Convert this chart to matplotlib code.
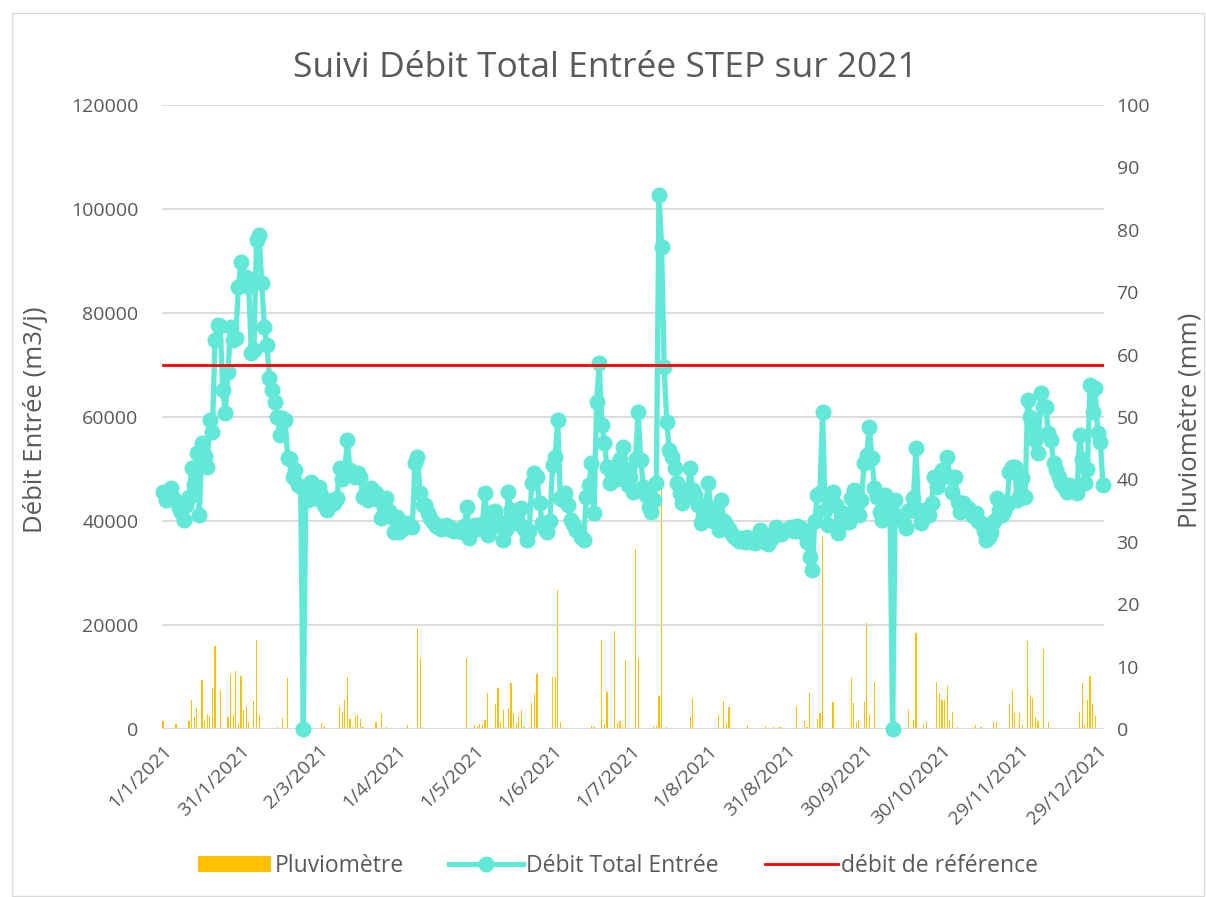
import numpy as np
import matplotlib
matplotlib.use("Agg")
import matplotlib.pyplot as plt
from matplotlib.patches import Rectangle

plt.rcParams['font.family'] = ['Open Sans', 'DejaVu Sans']

# ---------------- data ----------------
debit = [
    45500, 44000, 45800, 46300, 44500, 43800, 42500, 41700, 40200, 43000,
    44600, 50200, 47000, 53000, 41100, 55000, 52500, 50400, 59400, 57100,
    74800, 77700, 77500, 65200, 60800, 68700, 77300, 74800, 75200, 85000,
    89800, 86000, 87000, 85000, 72300, 72900, 94000, 95000, 85800, 77300,
    73800, 67500, 65200, 62900, 60000, 56500, 59800, 59500, 52100, 52000,
    48500, 49800, 47000, 46500, 0, 46000, 44000, 47500, 46000, 44500,
    46500, 45000, 43000, 42100, 43000, 44000, 43500, 44500, 50200, 48000,
    49800, 55600, 49800, 49200, 48500, 49200, 48500, 44600, 45500, 44000,
    46300, 45000, 45400, 44000, 40600, 42500, 44400, 42000, 40800, 37900,
    40800, 37900, 38500, 39000, 39600, 39000, 38800, 51100, 52300, 45400,
    43000, 43000, 41500, 40500, 39800, 39000, 38800, 38500, 39000, 39200,
    38800, 38300, 38000, 38300, 38000, 37800, 39000, 42700, 36700, 38500,
    39200, 38500, 38800, 39500, 45400, 37300, 38500, 41700, 42000, 40000,
    39000, 36300, 38500, 45600, 42100, 41000, 40000, 39500, 42500, 38500,
    36300, 38000, 47300, 49200, 48500, 43500, 39600, 38500, 37900, 40000,
    50800, 52300, 59400, 44400, 44000, 45400, 43000, 40200, 39500, 38300,
    38000, 37000, 36300, 44600, 47000, 51100, 41500, 62900, 70400, 58500,
    55000, 50400, 47300, 49000, 50400, 48000, 52000, 54200, 50000, 47000,
    48500, 45600, 52000, 61000, 51700, 46500, 45000, 42700, 41700, 44000,
    47300, 102700, 92700, 69600, 59000, 53700, 52300, 50200, 47300, 45400,
    43500, 44500, 46000, 50200, 46000, 45000, 43000, 39600, 41000, 43000,
    47300, 41500, 40000, 42000, 38300, 44000, 40000, 39200, 38500, 37500,
    36900, 36500, 36200, 36700, 36000, 36900, 36500, 36000, 35800, 36500,
    38300, 37000, 36000, 35500, 36500, 37500, 38800, 38300, 37500, 38000,
    38300, 38500, 38800, 38000, 39000, 38800, 37900, 38300, 36000, 33000,
    30500, 40000, 45000, 45400, 61000, 42100, 39200, 43500, 45600, 43000,
    37700, 40000, 41500, 39800, 39800, 44400, 46000, 42500, 41100, 44000,
    51100, 52700, 58000, 52100, 46300, 44600, 41700, 40200, 45000, 42500,
    41000, 0, 44000, 41000, 40800, 40000, 38600, 42000, 42100, 44400,
    54000, 41500, 39600, 42100, 42000, 41100, 43500, 48500, 46500, 47900,
    49800, 49000, 52300, 48500, 45600, 48500, 43700, 41700, 43500, 42500,
    42500, 41500, 41000, 41500, 40000, 39600, 38000, 36300, 37000, 37900,
    40000, 44400, 42000, 41100, 42000, 43000, 49400, 50400, 50400, 44000,
    45000, 48300, 44600, 63300, 60000, 58000, 55600, 53100, 64600, 62000,
    61900, 57000, 55600, 51100, 49800, 48500, 47300, 46500, 45600, 47000,
    46300, 46000, 45400, 56500, 52000, 47300, 50000, 66200, 61000, 65600,
    56900, 55200, 47000,
]

# rainfall (mm): day index of each rainy day and its amount
rain_days = [0, 5, 10, 11, 12, 13, 15, 16, 17, 18, 19, 20, 22, 25, 26, 27, 28, 29, 30, 31,
             32, 33, 35, 36, 37, 44, 46, 48, 61, 62, 68, 69, 70, 71, 72, 73, 74, 75, 76, 77,
             82, 84, 86, 94, 98, 99, 100, 117, 120, 121, 122, 123, 124, 125, 128, 129, 130, 131,
             132, 133, 134, 135, 136, 137, 138, 139, 141, 142, 143, 144, 150, 151, 152, 153, 165,
             166, 169, 170, 171, 174, 175, 176, 177, 178, 182, 183, 189, 190, 191, 192, 194, 203,
             204, 208, 214, 216, 217, 218, 225, 232, 235, 237, 238, 244, 247, 248, 249, 252, 253,
             254, 258, 265, 266, 267, 268, 270, 271, 272, 274, 287, 289, 290, 293, 294, 298, 299,
             300, 301, 302, 303, 304, 306, 312, 313, 315, 320, 321, 326, 327, 328, 330, 331, 333,
             334, 335, 336, 337, 339, 341, 353, 354, 355, 356, 357, 358, 359]
rain_mm = [1.3, 0.8, 1.3, 4.7, 2, 3.4, 7.9, 1.3, 2.4, 2, 6.6, 13.3, 6.3, 2, 8.8, 2.2, 9.3, 1, 8.5, 3,
           3.7, 1.2, 4.5, 14.3, 2.2, 0.3, 1.7, 8.1, 1, 0.3, 3.7, 2.8, 4.7, 8.4, 1.6, 0.3, 2.1, 2.3, 1.6, 0.3,
           1.1, 2.6, 0.3, 0.7, 16, 11.4, 0.3, 11.4, 0.7, 0.5, 0.8, 0.7, 1.5, 5.8, 4, 6.6, 1.2, 3.1,
           0.3, 3.4, 7.4, 2.6, 1, 1.9, 3, 0.3, 0.3, 4.2, 5.6, 8.8, 8.3, 8.3, 22.3, 1.2, 0.5,
           0.3, 14.3, 0.8, 5.9, 15.7, 1, 1.3, 0.3, 11.1, 28.9, 11.4, 0.5, 0.5, 5.3, 40, 0.3, 1.9,
           4.9, 0.2, 2.2, 4.5, 1, 3.5, 0.7, 0.5, 0.4, 0.4, 0.4, 3.7, 1.3, 0.3, 5.8, 1.6, 2.6,
           31, 4.4, 8.1, 4.2, 1.1, 1.5, 4.4, 17, 2.3, 7.5, 3, 1.4, 15.4, 0.8, 1.2, 7.5, 5.8,
           4.7, 4.7, 6.9, 1.5, 2.7, 0.3, 0.4, 0.7, 0.3, 1.1, 1.1, 4, 6.3, 2.5, 2.5, 0.7, 14.1,
           5.4, 4.9, 1.9, 1.3, 12.9, 1.2, 2.7, 7.3, 0.7, 4.6, 8.5, 4, 2.1]

reference_flow = 70000

tick_labels = ['1/1/2021', '31/1/2021', '2/3/2021', '1/4/2021', '1/5/2021', '1/6/2021',
               '1/7/2021', '1/8/2021', '31/8/2021', '30/9/2021', '30/10/2021',
               '29/11/2021', '29/12/2021']

# ---------------- build ----------------
n = len(debit)
x = np.arange(n)
rain = np.zeros(n)
rain[rain_days] = rain_mm
ref = np.full(n, reference_flow)

W, H = 1206, 897
fig = plt.figure(figsize=(W / 100, H / 100), dpi=100)
fig.patches.append(Rectangle((12 / W, 1 / H), (W - 14) / W, (H - 14) / H,
                             transform=fig.transFigure, fill=False,
                             edgecolor='#d9d9d9', linewidth=1))

L, R, T, B = 162, 1104, 105, 729
ax = fig.add_axes([L / W, 1 - B / H, (R - L) / W, (B - T) / H])
ax2 = ax.twinx()

grey = '#595959'
bars = ax2.bar(x, rain, width=0.45, color='#FFC000', linewidth=0, label='Pluviomètre')
line, = ax.plot(x, debit, color='#62E8D6', lw=3.8, marker='o', ms=10.5,
                label='Débit Total Entrée', clip_on=False, zorder=3)
refline, = ax.plot(x, ref, color='#FF0000', lw=2.0, label='débit de référence', zorder=4)

ax.set_zorder(ax2.get_zorder() + 1)
ax.patch.set_visible(False)

ax.set_xlim(-0.4, n - 0.6)
ax.set_ylim(0, 120000)
ax2.set_ylim(0, 100)
ax.set_yticks(np.arange(0, 120001, 20000))
ax2.set_yticks(np.arange(0, 101, 10))
ax.set_xticks(np.arange(0, n, 30))
ax.set_xticklabels(tick_labels, rotation=45, ha='right', rotation_mode='anchor')

ax.grid(axis='y', color='#d9d9d9', linewidth=1.3)
ax.set_axisbelow(True)
for a in (ax, ax2):
    for s in a.spines.values():
        s.set_visible(False)
ax.tick_params(axis='both', length=0, colors=grey, labelsize=14)
ax.tick_params(axis='y', pad=17)
ax.tick_params(axis='x', pad=9)
ax2.tick_params(axis='y', length=0, colors=grey, labelsize=14, pad=9)

fig.text(36 / W, 1 - 420 / H, 'Débit Entrée (m3/j)', rotation=90, ha='center', va='center',
         color=grey, fontsize=18.5)
fig.text(1190 / W, 1 - 420 / H, 'Pluviomètre (mm)', rotation=90, ha='center', va='center',
         color=grey, fontsize=18.5)
fig.text(605 / W, 1 - 68 / H, 'Suivi Débit Total Entrée STEP sur 2021', ha='center', va='center',
         color=grey, fontsize=25.5)

fig.legend([bars, line, refline], ['Pluviomètre', 'Débit Total Entrée', 'débit de référence'],
           loc='center', bbox_to_anchor=(618 / W, 1 - 866 / H), ncol=3, frameon=False,
           fontsize=16.5, handlelength=3.2, columnspacing=2.0, handletextpad=0.15,
           labelcolor=grey)

fig.savefig('out.png', dpi=100)
